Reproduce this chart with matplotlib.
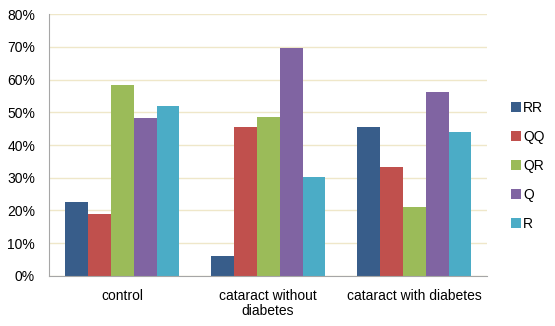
import matplotlib.pyplot as plt
import numpy as np

plt.rcParams['font.family'] = ['Liberation Sans', 'DejaVu Sans']

groups = ['control', 'cataract without\ndiabetes', 'cataract with diabetes']
series = ['RR', 'QQ', 'QR', 'Q', 'R']
rr = [22.6, 6.1, 45.5]
qq = [18.9, 45.5, 33.4]
qr = [58.4, 48.4, 21.1]
q = [48.2, 69.6, 56.2]
r = [51.9, 30.3, 43.9]
values = [rr, qq, qr, q, r]
colors = ['#385D8A', '#C0504D', '#9BBB59', '#8064A2', '#4BACC6']

fig = plt.figure(figsize=(5.55, 3.26), dpi=100)
ax = fig.add_axes([0.0883, 0.1534, 0.7892, 0.8036])

x = np.arange(len(groups))
w = 0.1575
for i, (name, vals) in enumerate(zip(series, values)):
    ax.bar(x + (i - 2) * w, vals, w, color=colors[i], label=name, zorder=3)

ax.set_xlim(-0.5, 2.5)
ax.set_ylim(0, 80)
ax.set_yticks(range(0, 81, 10))
ax.set_yticklabels([f'{v}%' for v in range(0, 81, 10)], fontsize=10)
ax.set_xticks(x)
ax.set_xticklabels(groups, fontsize=10, linespacing=1.05)
ax.tick_params(axis='y', length=0, pad=10)
ax.tick_params(axis='x', length=0, pad=9.5)
ax.yaxis.grid(True, color='#EFE7C9', linewidth=1, zorder=0)
for s in ['top', 'right']:
    ax.spines[s].set_visible(False)
for s in ['left', 'bottom']:
    ax.spines[s].set_color('#A6A6A6')
    ax.spines[s].set_zorder(4)

ax.legend(loc='center left', bbox_to_anchor=(1.055, 0.42), frameon=False,
          fontsize=10, handlelength=0.7, handleheight=0.7, handletextpad=0.15,
          labelspacing=1.08, borderaxespad=0, borderpad=0)

fig.savefig('out.png', dpi=100)
